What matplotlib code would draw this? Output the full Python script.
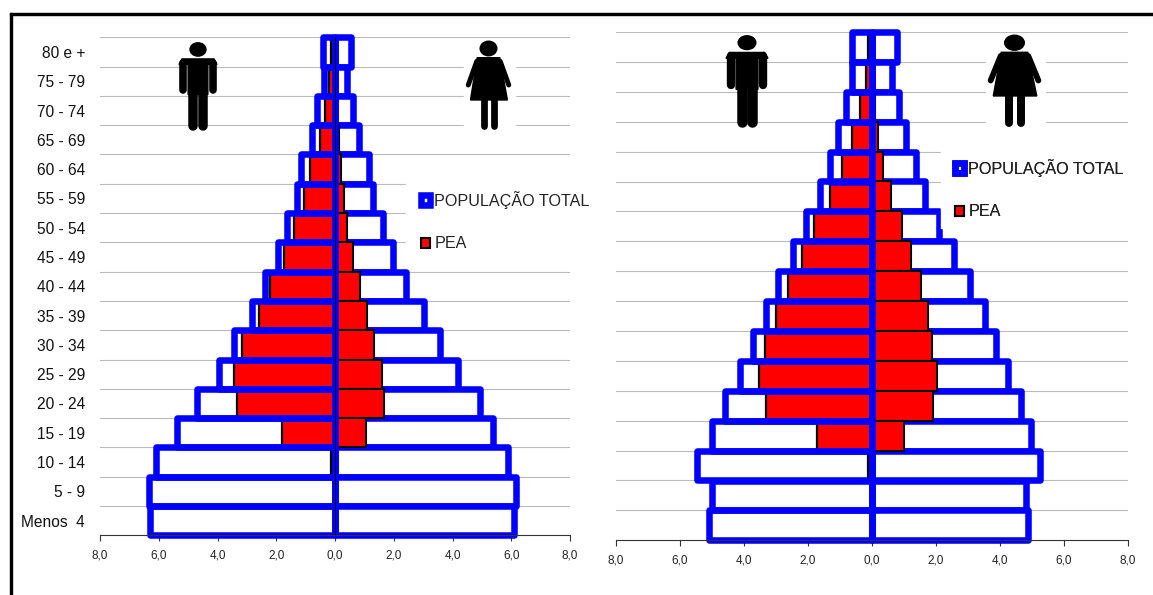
import matplotlib
matplotlib.use("Agg")
import matplotlib.pyplot as plt
from matplotlib.patches import Ellipse, Polygon, Rectangle
import numpy as np

plt.rcParams['font.family'] = ['Liberation Sans', 'DejaVu Sans']

age_groups = ["80 e +", "75 - 79", "70 - 74", "65 - 69", "60 - 64", "55 - 59", "50 - 54", "45 - 49", "40 - 44",
              "35 - 39", "30 - 34", "25 - 29", "20 - 24", "15 - 19", "10 - 14", "5 - 9", "Menos  4"]
x_ticks = [-8, -6, -4, -2, 0, 2, 4, 6, 8]
x_tick_labels = ["8,0", "6,0", "4,0", "2,0", "0,0", "2,0", "4,0", "6,0", "8,0"]

# left pyramid
men_total_a = [0.42, 0.38, 0.60, 0.80, 1.17, 1.30, 1.63, 1.93, 2.37, 2.82, 3.44, 3.96, 4.70, 5.37, 6.11, 6.33, 6.31]
women_total_a = [0.53, 0.42, 0.61, 0.83, 1.16, 1.30, 1.62, 1.97, 2.40, 3.02, 3.57, 4.18, 4.92, 5.37, 5.89, 6.15, 6.11]
men_pea_a = [0.15, 0.20, 0.33, 0.50, 0.85, 1.07, 1.40, 1.75, 2.20, 2.60, 3.15, 3.43, 3.33, 1.81, 0.15, 0.02, 0.0]
women_pea_a = [0.0, 0.0, 0.0, 0.12, 0.20, 0.29, 0.42, 0.60, 0.85, 1.09, 1.33, 1.59, 1.67, 1.07, 0.05, 0.0, 0.0]

# right pyramid
men_total_b = [0.63, 0.62, 0.81, 1.05, 1.31, 1.61, 2.05, 2.46, 2.95, 3.31, 3.71, 4.12, 4.58, 5.01, 5.48, 4.99, 5.08]
women_total_b = [0.79, 0.64, 0.85, 1.07, 1.36, 1.65, 2.08, 2.55, 3.05, 3.52, 3.87, 4.25, 4.65, 4.96, 5.26, 4.80, 4.87]
men_pea_b = [0.12, 0.20, 0.37, 0.62, 0.94, 1.30, 1.80, 2.20, 2.63, 3.00, 3.34, 3.54, 3.30, 1.73, 0.12, 0.0, 0.0]
women_pea_b = [0.0, 0.0, 0.10, 0.20, 0.35, 0.60, 0.94, 1.23, 1.52, 1.75, 1.88, 2.02, 1.90, 1.01, 0.0, 0.0, 0.0]

W = 1153
H = 595
BLUE = "#0000ff"
RED = "#ff0000"


def pyramid(box, men_total, women_total, men_pea, women_pea, labels):
    x0, y0, x1, y1 = box
    ax = fig.add_axes([x0 / W, (H - y1) / H, (x1 - x0) / W, (y1 - y0) / H])
    ypos = np.arange(len(age_groups))[::-1] + 0.5
    edge = 4.7

    men = -np.array(men_total)
    women = np.array(women_total)
    # white fill under everything, so the gridlines do not show inside the bars
    ax.barh(ypos, men, height=1, color="white", zorder=2)
    ax.barh(ypos, -np.array(men_pea), height=1, color=RED, edgecolor="black", linewidth=1.6, zorder=3)
    total = ax.barh(ypos, men, height=1, facecolor="none", edgecolor=BLUE, linewidth=edge, zorder=4,
                    joinstyle="round", clip_on=False)
    ax.barh(ypos, women, height=1, facecolor="white", edgecolor=BLUE, linewidth=edge, zorder=3,
            joinstyle="round", clip_on=False)
    pea = ax.barh(ypos, women_pea, height=1, color=RED, edgecolor="black", linewidth=1.5, zorder=4)
    ax.axvline(0, color=BLUE, linewidth=edge, zorder=6)

    ax.set_xlim(-8, 8)
    ax.set_ylim(0, 17)
    ax.set_yticks(ypos)
    ax.set_yticks(np.arange(1, 18), minor=True)
    ax.grid(True, axis="y", which="minor", color="#bbbbbb", linewidth=0.8, zorder=1)
    ax.grid(False, axis="x")
    ax.set_axisbelow(True)
    for name in ["top", "right"]:
        ax.spines[name].set_visible(False)
    ax.spines["bottom"].set_color("#333333")
    ax.spines["bottom"].set_zorder(7)

    if labels:
        # moving the spine resets the ticks, so this comes before the labels
        ax.spines["left"].set_position(("data", 0))
        ax.spines["left"].set_zorder(7)
        ax.spines["left"].set_linewidth(0.7)
        ax.set_yticks(ypos)
        ax.set_yticks(np.arange(1, 18), minor=True)
        ax.set_yticklabels(labels, fontsize=11.2, color="#111111")
        ax.tick_params(axis="y", which="major", length=0, pad=180)
        ax.tick_params(axis="y", which="minor", length=3, width=0.8, color="black")
    else:
        ax.set_yticklabels([])
        ax.tick_params(axis="y", which="both", length=0)
        ax.spines["left"].set_visible(False)

    ax.set_xticks(x_ticks)
    ax.set_xticklabels(x_tick_labels, fontsize=8.5, color="#222222")
    ax.tick_params(axis="x", length=4, width=0.8, pad=6.5, color="#333333")
    return total[0], pea[0]


def man_icon(ov, x0, y0, x1, y1):
    w = x1 - x0
    h = y1 - y0
    px = lambda a, b: (x0 + a * w, y0 + b * h)
    ov.add_patch(Ellipse(px(0.5, 0.075), 0.42 * w, 0.155 * h, color="black"))
    ov.add_patch(Polygon([px(0.08, 0.185), px(0.92, 0.185), px(1.0, 0.25), px(0.76, 0.25), px(0.76, 0.6),
                          px(0.24, 0.6), px(0.24, 0.25), px(0.0, 0.25)], color="black"))
    for a in [0.11, 0.89]:
        ov.plot(*zip(px(a, 0.23), px(a, 0.55)), color="black", lw=0.2 * w * 0.72, solid_capstyle="round")
    for a in [0.37, 0.63]:
        ov.plot(*zip(px(a, 0.58), px(a, 0.97)), color="black", lw=0.25 * w * 0.72, solid_capstyle="round")


def woman_icon(ov, x0, y0, x1, y1):
    w = x1 - x0
    h = y1 - y0
    px = lambda a, b: (x0 + a * w, y0 + b * h)
    ov.add_patch(Ellipse(px(0.5, 0.085), 0.37 * w, 0.165 * h, color="black"))
    ov.add_patch(Polygon([px(0.25, 0.19), px(0.75, 0.19), px(0.92, 0.67), px(0.1, 0.67)], color="black"))
    ov.plot(*zip(px(0.24, 0.23), px(0.05, 0.5)), color="black", lw=0.11 * w * 0.72, solid_capstyle="round")
    ov.plot(*zip(px(0.76, 0.23), px(0.95, 0.5)), color="black", lw=0.11 * w * 0.72, solid_capstyle="round")
    for a in [0.4, 0.62]:
        ov.plot(*zip(px(a, 0.65), px(a, 0.97)), color="black", lw=0.15 * w * 0.72, solid_capstyle="round")


fig = plt.figure(figsize=(W / 100, H / 100), dpi=100)

total_a, pea_a = pyramid((100, 37.3, 570, 535.3), men_total_a, women_total_a, men_pea_a, women_pea_a, age_groups)
total_b, pea_b = pyramid((616, 32, 1128, 540.3), men_total_b, women_total_b, men_pea_b, women_pea_b, None)

# overlay in pixel coordinates for frame, icons and the white boxes behind them
ov = fig.add_axes([0, 0, 1, 1], zorder=10)
ov.set_xlim(0, W)
ov.set_ylim(H, 0)
ov.axis("off")
ov.patch.set_alpha(0)

ov.add_patch(Rectangle((9.5, 12.7), W - 9.5, 2.6, color="black"))
ov.add_patch(Rectangle((9.5, 12.7), 2.6, H - 12.7, color="black"))

ov.add_patch(Rectangle((405.5, 165), 190, 93, color="white"))
ov.add_patch(Rectangle((941, 140), 190, 88, color="white"))
ov.add_patch(Rectangle((464, 45), 51, 90, color="white"))
ov.add_patch(Rectangle((986, 40), 59, 92, color="white"))

man_icon(ov, 179, 43, 217, 129)
woman_icon(ov, 466, 41, 511, 129)
man_icon(ov, 726, 36, 768, 125)
woman_icon(ov, 988, 35, 1041, 126)

for handles_x, y_top, handles in [(420.5, 191, (total_a, pea_a)), (954.5, 159, (total_b, pea_b))]:
    ov.legend(handles, ["POPULAÇÃO TOTAL", "PEA"], loc="upper left",
              bbox_to_anchor=(handles_x / W, 1 - y_top / H), bbox_transform=fig.transFigure,
              frameon=False, prop={"family": "Liberation Sans", "size": 11.6}, borderpad=0, borderaxespad=0,
              handlelength=0.56, handleheight=0.56, handletextpad=0.3, labelspacing=1.7, labelcolor="#222222")
    ov.add_artist(ov.get_legend())

fig.savefig("out.png", dpi=100)
